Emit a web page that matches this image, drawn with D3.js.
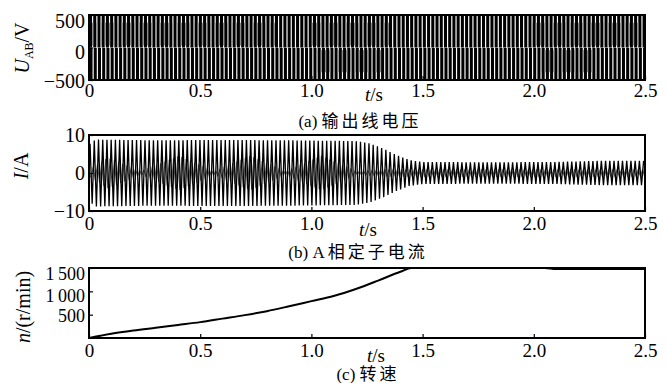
<!DOCTYPE html>
<html>
<head>
<meta charset="utf-8">
<script src="https://cdn.jsdelivr.net/npm/d3@7"></script>
<style>
body { margin: 0; background: #fff; }
text { font-family: "Liberation Serif", "Times New Roman", Tinos, "DejaVu Serif", "Noto Sans CJK SC", serif; fill: #000; }
</style>
</head>
<body>
<div id="chart"></div>
<script>
const xTicks = [0, 0.5, 1.0, 1.5, 2.0, 2.5]
const voltTicks = [-500, 0, 500]
const currTicks = [-10, 0, 10]
const speedTicks = [500, 1000, 1500]

// PWM line voltage: carrier period (s), level, and stretches where the strokes look grey
const pwmPeriod = 0.019
const pwmLevel = 500
const greyTop = [[0.0, 0.82], [0.98, 1.33], [1.97, 2.48]]
const greyBottom = [[1.0, 1.3], [2.0, 2.25]]

// phase A stator current: period and peak envelope
const currPeriod = 0.019
const envT = [0, 0.03, 0.3, 0.6, 0.9, 1.2, 1.26, 1.32, 1.38, 1.44, 1.5, 1.8, 2.1, 2.3, 2.5]
const envA = [7.5, 8.8, 8.6, 8.7, 8.6, 8.4, 7.8, 6.5, 4.8, 3.4, 2.9, 2.8, 2.9, 3.2, 3.2]
// inner beat visible in the band before 1.3 s
const beatT = [0, 0.08, 0.23, 0.4, 0.56, 0.72, 0.88, 1.04, 1.2, 1.35, 2.5]
const beatA = [1, 4, 0.5, 4.5, 0.5, 4.5, 0.5, 4.5, 0.5, 1, 1]

// speed n (r/min)
const speedT = [0, 0.1, 0.2, 0.3, 0.4, 0.5, 0.6, 0.7, 0.8, 0.9, 1.0, 1.1, 1.2, 1.3, 1.4, 1.45, 2.05, 2.1, 2.5]
const speedN = [0, 90, 160, 220, 280, 340, 415, 490, 575, 680, 790, 900, 1050, 1230, 1420, 1500, 1500, 1478, 1478]

const width = 667
const height = 383
const left = 89, right = 645

const svg = d3.select("div#chart").append("svg").attr("width", width).attr("height", height)

const x = d3.scaleLinear().domain([0, 2.5]).range([left, right])
const fmtX = d => d === 0 ? "0" : d3.format(".1f")(d)

function panel(opt) {
    const y = d3.scaleLinear().domain(opt.domain).range([opt.bottom, opt.top])
    const g = svg.append("g")
    const clipId = "clip" + opt.name
    svg.append("clipPath").attr("id", clipId).append("rect")
        .attr("x", left).attr("y", opt.top).attr("width", right - left).attr("height", opt.bottom - opt.top)
    const plot = g.append("g").attr("clip-path", `url(#${clipId})`)

    g.append("g").attr("transform", `translate(0,${opt.bottom})`)
        .call(d3.axisBottom(x).tickValues(xTicks).tickFormat(fmtX).tickSizeInner(-4).tickSizeOuter(0).tickPadding(opt.xPad))
        .attr("font-family", null)
        .call(a => a.select(".domain").remove())
        .call(a => a.selectAll("text").style("font-size", "19px"))
        .call(a => a.selectAll("line").attr("stroke-width", 1.2))

    g.append("g").attr("transform", `translate(${left},0)`)
        .call(d3.axisLeft(y).tickValues(opt.ticks).tickFormat(opt.fmt).tickSizeInner(-4).tickSizeOuter(0).tickPadding(4))
        .attr("font-family", null)
        .call(a => a.select(".domain").remove())
        .call(a => a.selectAll("text").style("font-size", opt.ySize + "px")
            .attr("dy", d => (0.32 * opt.ySize + opt.shift(d)) + "px"))
        .call(a => a.selectAll("line").attr("stroke-width", 1.2))

    return {y, g, plot, opt}
}

// (a) line voltage
const pa = panel({name: "a", domain: [-500, 500], top: 15, bottom: 80, ticks: voltTicks, ySize: 20,
    fmt: d3.format(""), xPad: 4, shift: d => d === 500 ? 6 : d === 0 ? 5 : 1})
const pulses = d3.range(0, 2.5, pwmPeriod)
const inZone = (t, zones) => zones.some(z => t >= z[0] && t <= z[1])
pa.plot.selectAll(".pTop").data(pulses).enter().append("rect")
    .attr("x", t => x(t)).attr("width", t => x(t + 0.72 * pwmPeriod) - x(t))
    .attr("y", pa.y(pwmLevel)).attr("height", pa.y(0) - pa.y(pwmLevel))
    .attr("fill", "#000")
pa.plot.selectAll(".pBot").data(pulses).enter().append("rect")
    .attr("x", t => x(t + 0.12 * pwmPeriod)).attr("width", t => x(t + 0.72 * pwmPeriod) - x(t))
    .attr("y", pa.y(0) + 0.4).attr("height", pa.y(-pwmLevel) - pa.y(0))
    .attr("fill", "#000")
// grey moire inside the pulses
pa.plot.selectAll(".gTop").data(pulses.filter(t => inZone(t, greyTop))).enter().append("rect")
    .attr("x", t => x(t + 0.72 * pwmPeriod)).attr("width", t => x(t + pwmPeriod) - x(t + 0.72 * pwmPeriod))
    .attr("y", pa.y(380)).attr("height", pa.y(30) - pa.y(380))
    .attr("fill", "#8a8a8a")
pa.plot.selectAll(".gBot").data(pulses.filter(t => inZone(t, greyBottom))).enter().append("rect")
    .attr("x", t => x(t + 0.84 * pwmPeriod)).attr("width", t => x(t + pwmPeriod) - x(t + 0.72 * pwmPeriod))
    .attr("y", pa.y(-40)).attr("height", pa.y(-380) - pa.y(-40))
    .attr("fill", "#8a8a8a")

// (b) stator current
const pb = panel({name: "b", domain: [-10, 10], top: 135, bottom: 211, ticks: currTicks, ySize: 20,
    fmt: d3.format(""), xPad: 6, shift: d => 0})
const env = d3.scaleLinear().domain(envT).range(envA)
const beat = d3.scaleLinear().domain(beatT).range(beatA)
const halfT = d3.range(currPeriod / 4, 2.5, currPeriod / 2)
const zig = halfT.map((t, i) => [t, (i % 2 ? -1 : 1) * env(t)])
const zigBeat = halfT.map((t, i) => [t + currPeriod / 4, (i % 2 ? 1 : -1) * beat(t)])
const line = d3.line().x(d => x(d[0])).y(d => pb.y(d[1]))
pb.plot.append("path").datum([[0, 0]].concat(zigBeat)).attr("d", line)
    .attr("fill", "none").attr("stroke", "#555").attr("stroke-width", 1)
pb.plot.append("path").datum([[0, 0]].concat(zig)).attr("d", line)
    .attr("fill", "none").attr("stroke", "#000").attr("stroke-width", 1.3)

// (c) speed
const pc = panel({name: "c", domain: [0, 1500], top: 268, bottom: 338, ticks: speedTicks, ySize: 18,
    fmt: d => d >= 1000 ? d3.format(",")(d).replace(",", "\u2009") : d, xPad: 6,
    shift: d => d === 1500 ? 6 : d === 1000 ? 4 : 1})
pc.plot.append("path").datum(speedT.map((t, i) => [t, speedN[i]]))
    .attr("d", d3.line().curve(d3.curveMonotoneX).x(d => x(d[0])).y(d => pc.y(d[1])))
    .attr("fill", "none").attr("stroke", "#000").attr("stroke-width", 2)

// frames on top
;[pa, pb, pc].forEach(p => {
    p.g.append("rect").attr("x", left).attr("y", p.opt.top)
        .attr("width", right - left).attr("height", p.opt.bottom - p.opt.top)
        .attr("fill", "none").attr("stroke", "#000").attr("stroke-width", 2)
})

// t/s labels
function tLabel(cx, by) {
    const t = svg.append("text").attr("x", cx).attr("y", by).attr("text-anchor", "middle").style("font-size", "19px")
    t.append("tspan").style("font-style", "italic").text("t")
    t.append("tspan").text("/s")
}
tLabel(374, 101)
tLabel(368, 236)
tLabel(376, 362)

// y titles
function yTitle(cx, cy, build) {
    const t = svg.append("text").attr("transform", `translate(${cx},${cy}) rotate(-90)`)
        .attr("text-anchor", "middle").style("font-size", "20px")
    build(t)
}
yTitle(29, 48, t => {
    t.append("tspan").style("font-style", "italic").text("U")
    t.append("tspan").attr("dy", 4).style("font-size", "12px").text("AB")
    t.append("tspan").attr("dy", -4).text("/V")
})
yTitle(28, 166, t => {
    t.append("tspan").style("font-style", "italic").text("I")
    t.append("tspan").text("/A")
})
yTitle(30, 307, t => {
    t.append("tspan").style("font-style", "italic").text("n")
    t.append("tspan").text("/(r/min)")
})

// captions
function caption(cx, by, tag, label) {
    const t = svg.append("text").attr("x", cx).attr("y", by).attr("text-anchor", "middle").style("font-size", "17px")
    t.append("tspan").text(tag + " ")
    t.append("tspan").style("letter-spacing", "3px").text(label)
}
caption(360, 127, "(a)", "输出线电压")
caption(358, 258, "(b)", "A相定子电流")
caption(368, 380, "(c)", "转速")
</script>
</body>
</html>
